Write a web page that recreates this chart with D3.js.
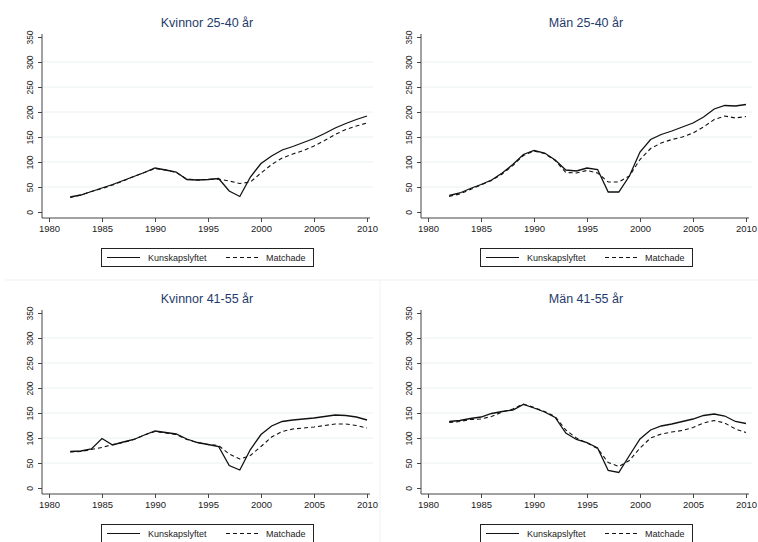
<!DOCTYPE html>
<html><head><meta charset="utf-8">
<script src="https://cdn.jsdelivr.net/npm/d3@7"></script>
<style>body{margin:0;background:#fff}svg{display:block}text{font-family:"Liberation Sans",Arial,sans-serif}</style>
</head><body>
<svg id="c" width="758" height="542"></svg>
<script>
const years = d3.range(1982, 2011);
const titles = ["Kvinnor 25-40 år", "Män 25-40 år", "Kvinnor 41-55 år", "Män 41-55 år"];
const legendLabels = ["Kunskapslyftet", "Matchade"];
const yTicks = [0, 50, 100, 150, 200, 250, 300, 350];
const xTicks = [1980, 1985, 1990, 1995, 2000, 2005, 2010];

const kv2540Kunskap = [30,34,41,48,55,63,71,79,88,84,80,65,64,65,67,42,31,70,97,112,124,131,139,147,157,168,177,185,192];
const kv2540Match   = [29,34,41,47,54,62,71,79,87,84,79,66,64,65,66,62,57,60,78,95,108,116,123,132,143,155,165,172,178];
const man2540Kunskap = [33,38,47,55,64,78,95,115,123,118,104,84,82,88,85,40,40,72,120,145,155,162,170,178,190,206,213,212,215];
const man2540Match   = [31,36,45,54,63,76,93,113,122,117,103,79,78,83,78,60,60,72,105,127,138,145,150,158,170,185,192,188,191];
const kv4155Kunskap = [73,74,78,99,86,92,97,106,114,111,108,98,91,87,83,45,36,77,107,124,133,136,138,140,143,146,145,142,136];
const kv4155Match   = [72,73,77,81,87,91,97,106,113,110,107,97,91,87,85,68,58,65,83,102,113,118,120,122,125,128,128,125,120];
const man4155Kunskap = [133,135,139,142,149,153,156,167,160,152,141,110,97,91,80,35,31,65,98,116,124,128,133,138,145,148,144,133,129];
const man4155Match   = [131,133,137,138,143,152,158,168,161,153,143,116,100,90,79,51,43,55,80,100,108,112,115,121,130,135,130,118,111];

const series = [
  [kv2540Kunskap, kv2540Match],
  [man2540Kunskap, man2540Match],
  [kv4155Kunskap, kv4155Match],
  [man4155Kunskap, man4155Match]
];

const svg = d3.select("#c");
const panels = [
  {ox: 0, oy: 0}, {ox: 379, oy: 0}, {ox: 0, oy: 276}, {ox: 379, oy: 276}
];

// faint outer panel borders
svg.append("line").attr("x1",5).attr("x2",758).attr("y1",280).attr("y2",280).attr("stroke","#eef3f3");
svg.append("line").attr("x1",380).attr("x2",380).attr("y1",280).attr("y2",542).attr("stroke","#eef3f3");

panels.forEach((p, i) => {
  const g = svg.append("g").attr("transform", `translate(${p.ox},${p.oy})`);
  const x = d3.scaleLinear().domain([1980, 2010]).range([49, 367]);
  const y = d3.scaleLinear().domain([0, 350]).range([212, 37]);

  // gridlines
  g.selectAll(".grid").data(yTicks.filter(t => t > 0 && t < 350)).enter().append("line")
    .attr("x1", 43).attr("x2", 373).attr("y1", d => y(d)).attr("y2", d => y(d))
    .attr("stroke", "#e8f0f1").attr("stroke-width", 1);

  // y axis
  const yAxis = g.append("g").attr("transform", "translate(42,0)")
    .call(d3.axisLeft(y).tickValues(yTicks).tickSize(4).tickPadding(4));
  yAxis.select(".domain").attr("d", `M-0,${y(0)+6}V${y(350)-3}`).attr("stroke", "#444");
  yAxis.selectAll(".tick line").attr("stroke", "#444");
  yAxis.selectAll(".tick text")
    .attr("transform", "rotate(-90)")
    .attr("x", 0).attr("y", -9).attr("dy", 0)
    .attr("text-anchor", "middle")
    .style("font-size", "8.5px").attr("fill", "#222");

  // x axis
  const xAxis = g.append("g").attr("transform", "translate(0,218)")
    .call(d3.axisBottom(x).tickValues(xTicks).tickFormat(d3.format("d")).tickSize(4).tickPadding(3));
  xAxis.select(".domain").attr("d", `M42,0H370`).attr("stroke", "#444");
  xAxis.selectAll(".tick line").attr("stroke", "#444");
  xAxis.selectAll(".tick text").style("font-size", "9.5px").attr("fill", "#222");

  // title
  g.append("text").attr("x", 207).attr("y", 27).attr("text-anchor", "middle")
    .style("font-size", "12.5px").attr("fill", "#1f3b6b").text(titles[i]);

  const line = d3.line().x((d, j) => x(years[j])).y(d => y(d));
  g.append("path").datum(series[i][1]).attr("d", line)
    .attr("fill", "none").attr("stroke", "#111").attr("stroke-width", 1.1)
    .attr("stroke-dasharray", "4,3");
  g.append("path").datum(series[i][0]).attr("d", line)
    .attr("fill", "none").attr("stroke", "#111").attr("stroke-width", 1.3);

  // legend
  const lg = g.append("g").attr("transform", "translate(101,248)");
  lg.append("rect").attr("x", 0.5).attr("y", 0.5).attr("width", 212).attr("height", 18)
    .attr("fill", "#fff").attr("stroke", "#222").attr("stroke-width", 1);
  lg.append("line").attr("x1", 6).attr("x2", 39).attr("y1", 9.5).attr("y2", 9.5)
    .attr("stroke", "#111").attr("stroke-width", 1.2);
  lg.append("text").attr("x", 47).attr("y", 13).style("font-size", "9px").attr("fill", "#222").text(legendLabels[0]);
  lg.append("line").attr("x1", 125).attr("x2", 157).attr("y1", 9.5).attr("y2", 9.5)
    .attr("stroke", "#111").attr("stroke-width", 1.1).attr("stroke-dasharray", "4,3");
  lg.append("text").attr("x", 165).attr("y", 13).style("font-size", "9px").attr("fill", "#222").text(legendLabels[1]);
});
</script>
</body></html>
